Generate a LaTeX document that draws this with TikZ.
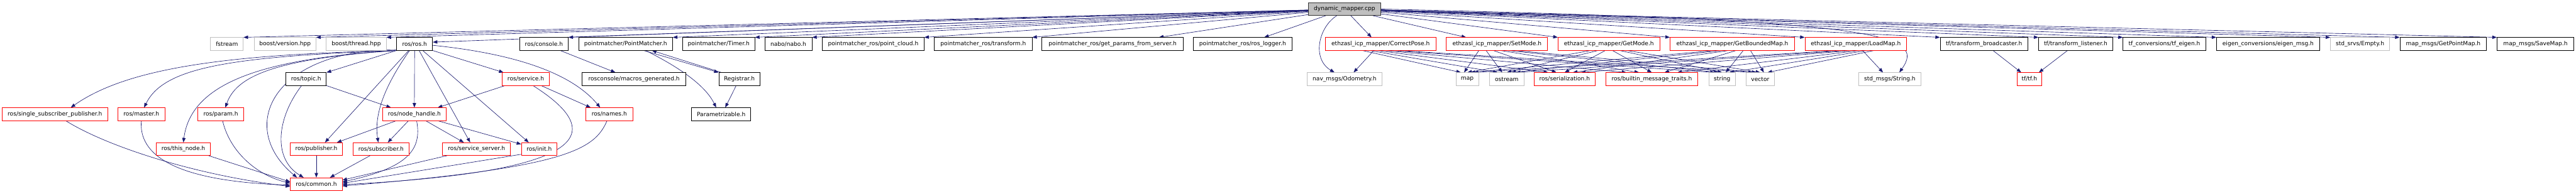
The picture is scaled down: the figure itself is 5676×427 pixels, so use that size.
\documentclass[tikz,border=0pt]{standalone}
\usepackage{fontspec}
\setmainfont{DejaVu Sans}
\usetikzlibrary{arrows.meta,backgrounds}
\definecolor{edgec}{HTML}{191970}
\definecolor{grayb}{HTML}{BFBFBF}
\definecolor{redb}{HTML}{FF0000}
\tikzset{
  box/.style={draw, fill=white, line width=1.1pt, minimum height=28pt, inner xsep=1pt, inner ysep=0pt, font=\fontsize{12.6}{15}\selectfont},
  blk/.style={box, draw=black},
  gry/.style={box, draw=grayb},
  rd/.style={box, draw=redb},
  rootbox/.style={box, draw=black!80, fill=grayb},
  edge/.style={draw=edgec, line width=0.9pt, -{Triangle[length=10pt,width=7.5pt]}}
}
\newcommand\nd[6]{\pgfmathsetmacro\ndw{#4-#3}\pgfmathsetmacro\ndx{(#3+#4)/2}\node[#1, minimum width=\ndw pt] (#2) at (\ndx,#5) {#6};}
\begin{document}
\begin{tikzpicture}[x=1pt,y=-1pt]
\useasboundingbox (0,0) rectangle (5676,427);
% row 0
\nd{rootbox}{root}{2883}{3042}{20}{dynamic\_mapper.cpp}
% row 1
\def\ra{97}
\nd{gry}{fstream}{464}{536}{\ra}{fstream}
\nd{gry}{bver}{560}{696}{\ra}{boost/version.hpp}
\nd{gry}{bthr}{719}{851}{\ra}{boost/thread.hpp}
\nd{blk}{rosh}{874}{953}{\ra}{ros/ros.h}
\nd{blk}{cons}{1145}{1252}{\ra}{ros/console.h}
\nd{blk}{pm}{1275}{1482}{\ra}{pointmatcher/PointMatcher.h}
\nd{blk}{tmr}{1504}{1663}{\ra}{pointmatcher/Timer.h}
\nd{blk}{nabo}{1685}{1789}{\ra}{nabo/nabo.h}
\nd{blk}{pcl}{1812}{2036}{\ra}{pointmatcher\_ros/point\_cloud.h}
\nd{blk}{ptf}{2059}{2274}{\ra}{pointmatcher\_ros/transform.h}
\nd{blk}{gps}{2296}{2607}{\ra}{pointmatcher\_ros/get\_params\_from\_server.h}
\nd{blk}{rlog}{2629}{2847}{\ra}{pointmatcher\_ros/ros\_logger.h}
\nd{rd}{cpose}{2920}{3164}{\ra}{ethzasl\_icp\_mapper/CorrectPose.h}
\nd{rd}{smode}{3187}{3410}{\ra}{ethzasl\_icp\_mapper/SetMode.h}
\nd{rd}{gmode}{3433}{3657}{\ra}{ethzasl\_icp\_mapper/GetMode.h}
\nd{rd}{gbm}{3680}{3954}{\ra}{ethzasl\_icp\_mapper/GetBoundedMap.h}
\nd{rd}{lmap}{3977}{4201}{\ra}{ethzasl\_icp\_mapper/LoadMap.h}
\nd{blk}{tfb}{4275}{4468}{\ra}{tf/transform\_broadcaster.h}
\nd{blk}{tfl}{4492}{4655}{\ra}{tf/transform\_listener.h}
\nd{blk}{tfe}{4678}{4860}{\ra}{tf\_conversions/tf\_eigen.h}
\nd{blk}{eig}{4884}{5111}{\ra}{eigen\_conversions/eigen\_msg.h}
\nd{gry}{empty}{5135}{5265}{\ra}{std\_srvs/Empty.h}
\nd{blk}{gpm}{5288}{5479}{\ra}{map\_msgs/GetPointMap.h}
\nd{blk}{save}{5502}{5671}{\ra}{map\_msgs/SaveMap.h}
% row 2
\def\rb{174.5}
\nd{blk}{topic}{630}{719}{\rb}{ros/topic.h}
\nd{rd}{service}{1107}{1210}{\rb}{ros/service.h}
\nd{blk}{macros}{1283}{1511}{\rb}{rosconsole/macros\_generated.h}
\nd{blk}{reg}{1584}{1674}{\rb}{Registrar.h}
\nd{gry}{odom}{2880}{3045}{\rb}{nav\_msgs/Odometry.h}
\nd{gry}{map}{3208}{3258}{\rb}{map}
\nd{gry}{ostream}{3282}{3358}{\rb}{ostream}
\nd{rd}{ser}{3380}{3515}{\rb}{ros/serialization.h}
\nd{rd}{bmt}{3538}{3741}{\rb}{ros/builtin\_message\_traits.h}
\nd{gry}{string}{3765}{3824}{\rb}{string}
\nd{gry}{vector}{3847}{3910}{\rb}{vector}
\nd{gry}{strmsg}{4095}{4233}{\rb}{std\_msgs/String.h}
\nd{rd}{tftf}{4444}{4499}{\rb}{tf/tf.h}
% row 3
\def\rc{252}
\nd{rd}{ssp}{5}{237}{\rc}{ros/single\_subscriber\_publisher.h}
\nd{rd}{master}{260}{363}{\rc}{ros/master.h}
\nd{rd}{param}{436}{537}{\rc}{ros/param.h}
\nd{rd}{nh}{843}{983}{\rc}{ros/node\_handle.h}
\nd{rd}{names}{1291}{1394}{\rc}{ros/names.h}
\nd{blk}{parz}{1524}{1654}{\rc}{Parametrizable.h}
% row 4
\def\rd{329}
\nd{rd}{thisn}{344}{464}{\rd}{ros/this\_node.h}
\nd{rd}{pub}{640}{754}{\rd}{ros/publisher.h}
\nd{rd}{sub}{778}{901}{\rd}{ros/subscriber.h}
\nd{rd}{ssrv}{975}{1125}{\rd}{ros/service\_server.h}
\nd{rd}{init}{1149}{1227}{\rd}{ros/init.h}
% row 5
\nd{rd}{common}{640}{754}{406.5}{ros/common.h}

\begin{scope}[on background layer]
% root -> row 1
\foreach \t in {fstream,bver,bthr,cons,pm,tmr,nabo,pcl,ptf}
  \draw[edge] (root) -- (\t.north east);
\draw[edge] (root) -- ([yshift=4pt]rosh.east);
\draw[edge] (root) -- ([xshift=-54pt]gps.north east);
\draw[edge] (root) -- ([xshift=-62pt]rlog.north east);
\draw[edge] (root) -- ([xshift=-20pt]cpose.north);
\draw[edge] (root) -- ([xshift=44pt]smode.north west);
\foreach \t in {gmode,gbm,lmap,tfb,tfl,tfe,eig,empty,gpm,save}
  \draw[edge] (root) -- (\t.north west);
\draw[edge] ([xshift=-17pt]root.south) .. controls (2905,60) and (2890,130) .. ([xshift=-22pt]odom.north);
\draw[edge] (root.east) .. controls (4150,45) and (4245,75) .. ([xshift=21pt]strmsg.north);
% ros/ros.h
\draw[edge] (rosh.south west) .. controls (500,120) and (280,150) .. ([xshift=35pt]ssp.north);
\draw[edge] (rosh.south west) .. controls (500,125) and (360,150) .. ([xshift=6pt]master.north);
\draw[edge] (rosh.south west) .. controls (560,130) and (420,190) .. ([xshift=0pt]thisn.north);
\draw[edge] (rosh.south west) .. controls (600,130) and (520,170) .. ([xshift=10pt]param.north);
\draw[edge] ([yshift=2pt]rosh.south west) .. controls (600,110) and (520,280) .. ([xshift=15pt]common.north west);
\draw[edge] (rosh.south west) -- (topic.north east);
\draw[edge] (rosh.south) -- (nh.north);
\draw[edge] ([xshift=-13pt]rosh.south) -- ([xshift=19pt]pub.north);
\draw[edge] ([xshift=-11pt]rosh.south) .. controls (840,200) and (825,260) .. ([xshift=-6pt]sub.north);
\draw[edge] ([xshift=10pt]rosh.south) -- ([xshift=-14pt]ssrv.north);
\draw[edge] ([xshift=18pt]rosh.south) -- ([xshift=-23pt]init.north);
\draw[edge] (rosh.south east) -- ([xshift=3pt]service.north west);
\draw[edge] ([yshift=-3pt]rosh.east) .. controls (1100,115) and (1250,150) .. ([xshift=-20pt]names.north);
% ros/topic.h
\draw[edge] ([xshift=-10pt]topic.south) .. controls (610,260) and (600,350) .. ([xshift=-28pt]common.north);
\draw[edge] (topic.south east) -- ([xshift=19pt]nh.north west);
% ros/service.h
\draw[edge] ([xshift=6pt]service.south west) -- ([xshift=-19pt]nh.north east);
\draw[edge] ([xshift=-18pt]service.south east) -- ([xshift=11pt]names.north west);
\draw[edge] ([xshift=16pt]service.south) .. controls (1350,300) and (1280,380) .. ([yshift=-1pt]common.east);
% ros/names.h
\draw[edge] ([xshift=-5pt]names.south) .. controls (1310,330) and (1250,370) .. ([yshift=-4pt]common.east);
% ros/node_handle.h
\draw[edge] ([xshift=-40pt]nh.south) -- ([xshift=-12pt]pub.north east);
\draw[edge] ([xshift=-13pt]nh.south) -- ([xshift=15pt]sub.north);
\draw[edge] ([xshift=25pt]nh.south) -- ([xshift=-28pt]ssrv.north);
\draw[edge] ([xshift=-19pt]nh.south east) -- ([yshift=-4pt]init.north west);
\draw[edge] ([xshift=5pt]nh.south) .. controls (930,330) and (900,370) .. ([yshift=5pt]common.east);
% row 4 -> common
\draw[edge] (pub) -- (common);
\draw[edge] ([xshift=-24pt]sub.south) -- ([xshift=30pt]common.north);
\draw[edge] ([xshift=-65pt]ssrv.south) -- ([yshift=9pt]common.east);
\draw[edge] ([yshift=3pt]init.south west) -- ([yshift=2pt]common.east);
\draw[edge] ([xshift=-5pt]thisn.south east) -- ([yshift=5pt]common.west);
\draw[edge] ([xshift=4pt]param.south) .. controls (505,330) and (560,385) .. ([yshift=2pt]common.west);
\draw[edge] (master.south) .. controls (305,340) and (380,400) .. ([yshift=-2pt]common.west);
\draw[edge] ([xshift=24pt]ssp.south) .. controls (230,320) and (420,385) .. ([yshift=-5pt]common.west);
% console, pointmatcher
\draw[edge] ([xshift=36pt]cons.south) -- ([xshift=-41pt]macros.north);
\draw[edge] ([xshift=40pt]pm.south) -- (reg.north west);
\draw[edge] ([xshift=6pt]reg.north west) -- ([xshift=58pt]pm.south);
\draw[edge] ([xshift=44pt]pm.south) .. controls (1500,150) and (1555,190) .. ([xshift=-11pt]parz.north);
\draw[edge] ([xshift=-7pt]reg.south) -- ([xshift=9pt]parz.north);
% service headers
\draw[edge] ([xshift=-15pt]cpose.south) -- ([xshift=20pt]odom.north);
\foreach \s [count=\i] in {cpose,smode,gmode,gbm,lmap}
  \foreach \t/\w [count=\j] in {map/7,ostream/10,ser/18,bmt/28,string/8,vector/8}
    \draw[edge] ([xshift={(\j-3.5)*16}]\s.south) -- ([xshift={(\i-3)*\w}]\t.north);
\draw[edge] ([xshift=15pt]lmap.south) -- ([xshift=-15pt]strmsg.north);
% tf
\draw[edge] ([xshift=20pt]tfb.south) -- ([xshift=-18pt]tftf.north);
\draw[edge] ([xshift=-18pt]tfl.south) -- ([xshift=21pt]tftf.north);
\end{scope}
\end{tikzpicture}
\end{document}
